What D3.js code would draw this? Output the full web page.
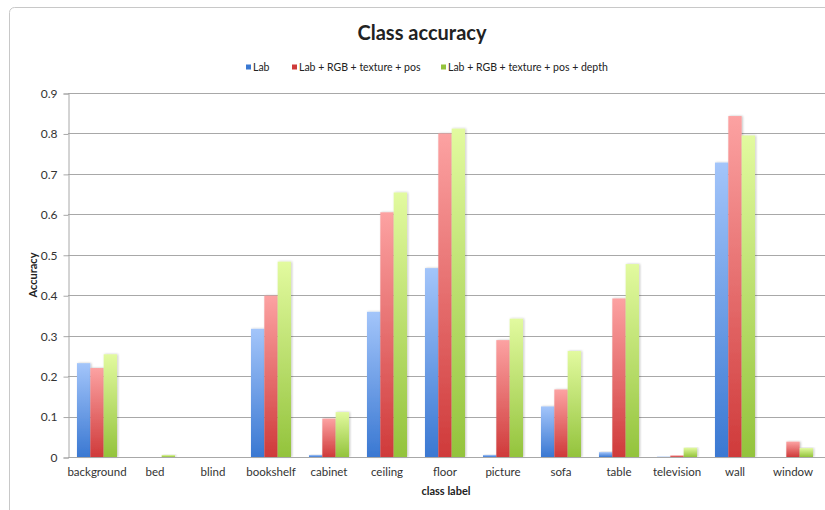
<!DOCTYPE html>
<html>
<head>
<meta charset="utf-8">
<script src="https://cdn.jsdelivr.net/npm/d3@7"></script>
<style>
	body { margin: 0; background: #fff; }
	svg text { font-family: Lato, "Open Sans", sans-serif; fill: #222; }
</style>
</head>
<body>
<div id="chart"></div>
<script>
// chart data
const categories = ["background", "bed", "blind", "bookshelf", "cabinet", "ceiling", "floor",
	"picture", "sofa", "table", "television", "wall", "window"];
const seriesNames = ["Lab", "Lab + RGB + texture + pos", "Lab + RGB + texture + pos + depth"];
const labValues = [0.232, 0, 0, 0.317, 0.005, 0.359, 0.467, 0.005, 0.125, 0.012, 0.001, 0.728, 0];
const rgbValues = [0.22, 0, 0, 0.399, 0.095, 0.605, 0.80, 0.289, 0.167, 0.392, 0.004, 0.843, 0.038];
const depthValues = [0.254, 0.005, 0, 0.483, 0.111, 0.654, 0.812, 0.342, 0.262, 0.477, 0.023, 0.795, 0.022];
const yTicks = [0, 0.1, 0.2, 0.3, 0.4, 0.5, 0.6, 0.7, 0.8, 0.9];

const seriesValues = [labValues, rgbValues, depthValues];
const colors = [
	{top: "#a3c5fa", bottom: "#3a78d2"},
	{top: "#fca2a2", bottom: "#cf3a3a"},
	{top: "#e2fa9f", bottom: "#93c33c"}
];

const width = 825, height = 510;
const margin = {left: 68, right: 3, top: 93, bottom: 53};

const svg = d3.select("#chart").append("svg")
	.attr("width", width)
	.attr("height", height);

const defs = svg.append("defs");
colors.forEach((c, i) => {
	let g = defs.append("linearGradient")
		.attr("id", "grad" + i)
		.attr("x1", 0).attr("y1", 0).attr("x2", 0).attr("y2", 1);
	g.append("stop").attr("offset", "0%").attr("stop-color", c.top);
	g.append("stop").attr("offset", "100%").attr("stop-color", c.bottom);
});
let shadow = defs.append("filter").attr("id", "shadow")
	.attr("x", "-20%").attr("y", "-5%").attr("width", "150%").attr("height", "110%");
shadow.append("feDropShadow")
	.attr("dx", 1).attr("dy", 0).attr("stdDeviation", 0.8)
	.attr("flood-color", "#000").attr("flood-opacity", 0.25);

// outer frame
svg.append("rect")
	.attr("x", 9.5).attr("y", 7.5)
	.attr("width", width).attr("height", height)
	.attr("rx", 5)
	.style("fill", "none")
	.style("stroke", "#c8c8c8");

let x = d3.scaleBand().domain(categories).range([margin.left, width - margin.right]).paddingInner(0.31).paddingOuter(0.155);
let xs = d3.scaleBand().domain(d3.range(3)).range([0, x.bandwidth()]);
let y = d3.scaleLinear().domain([0, 0.9]).range([height - margin.bottom, margin.top]);

// gridlines
svg.append("g")
	.selectAll("line")
	.data(yTicks)
	.enter().append("line")
	.attr("x1", margin.left)
	.attr("x2", width)
	.attr("y1", d => Math.round(y(d)) + 0.5)
	.attr("y2", d => Math.round(y(d)) + 0.5)
	.style("stroke", "#a8a8a8");

// y axis
let yAxis = d3.axisLeft(y).tickValues(yTicks).tickFormat(d => d === 0 ? "0" : d3.format(".1f")(d)).tickSize(5).tickPadding(6);
let yg = svg.append("g")
	.attr("transform", "translate(" + (margin.left + 0.5) + ",0.5)")
	.call(yAxis);
yg.selectAll("line, path").style("stroke", "#a8a8a8");
yg.selectAll("text").style("font-size", "12px").style("font-family", "Lato, sans-serif").style("fill", "#333");

// bars
let groups = svg.append("g")
	.selectAll("g")
	.data(categories)
	.enter().append("g")
	.attr("transform", d => "translate(" + x(d) + ",0)");

groups.selectAll("rect")
	.data((d, i) => seriesValues.map((vals, s) => ({s: s, v: vals[i]})))
	.enter().append("rect")
	.filter(d => d.v > 0)
	.attr("x", d => xs(d.s))
	.attr("width", xs.bandwidth())
	.attr("y", d => y(d.v))
	.attr("height", d => y(0) - y(d.v))
	.attr("filter", "url(#shadow)")
	.style("fill", d => "url(#grad" + d.s + ")");

// x axis
let xAxis = d3.axisBottom(x).tickSize(0).tickPadding(10);
let xg = svg.append("g")
	.attr("transform", "translate(0," + (Math.round(y(0)) + 0.5) + ")")
	.call(xAxis);
xg.select("path").attr("d", "M" + margin.left + ",0H" + width).style("stroke", "#a8a8a8");
xg.selectAll("text").style("font-size", "11.5px").style("font-family", "Lato, sans-serif").style("fill", "#333");

// title
svg.append("text")
	.attr("x", 422).attr("y", 40)
	.attr("text-anchor", "middle")
	.style("font-size", "20px")
	.style("font-weight", "bold")
	.text("Class accuracy");

// legend
let legendX = [246, 292, 441];
let legend = svg.append("g");
seriesNames.forEach((name, i) => {
	legend.append("rect")
		.attr("x", legendX[i]).attr("y", 64.5)
		.attr("width", 5).attr("height", 5)
		.style("fill", colors[i].bottom);
	legend.append("text")
		.attr("x", legendX[i] + 7).attr("y", 70.5)
		.style("font-size", "10.5px")
		.text(name);
});

// axis titles
svg.append("text")
	.attr("x", 446).attr("y", 495)
	.attr("text-anchor", "middle")
	.style("font-size", "11px")
	.style("font-weight", "bold")
	.text("class label");

svg.append("text")
	.attr("transform", "translate(37," + ((margin.top + height - margin.bottom) / 2) + ") rotate(-90)")
	.attr("text-anchor", "middle")
	.style("font-size", "11px")
	.style("font-weight", "bold")
	.text("Accuracy");
</script>
</body>
</html>
